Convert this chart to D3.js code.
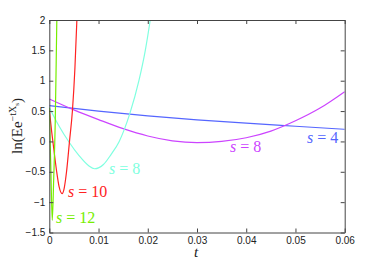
<!DOCTYPE html>
<html><head><meta charset="utf-8">
<script src="https://cdn.jsdelivr.net/npm/d3@7"></script>
<style>body{margin:0;background:#fff}svg{display:block}</style>
</head><body>
<svg id="c" width="382" height="262"></svg>
<script>
// Data
const xTicks = [0, 0.01, 0.02, 0.03, 0.04, 0.05, 0.06];
const yTicks = [-1.5, -1, -0.5, 0, 0.5, 1, 1.5, 2];

const tS4  = [0, 0.01, 0.02, 0.03, 0.04, 0.05, 0.06];
const vS4  = [0.59, 0.50, 0.42, 0.355, 0.30, 0.25, 0.20];

const tS8a = [0, 0.005, 0.01, 0.015, 0.02, 0.025, 0.03, 0.035, 0.04, 0.045, 0.05, 0.055, 0.06];
const vS8a = [0.70, 0.52, 0.36, 0.21, 0.09, 0.01, -0.02, 0.0, 0.06, 0.17, 0.34, 0.55, 0.82];

const tS8b = [0, 0.002, 0.004, 0.006, 0.008, 0.0092, 0.011, 0.0125, 0.0142, 0.0152, 0.0164, 0.0182, 0.0195, 0.0205, 0.022];
const vS8b = [0.56, 0.25, -0.01, -0.23, -0.40, -0.45, -0.38, -0.22, 0.0, 0.19, 0.47, 1.0, 1.5, 2.0, 2.9];

const tS10 = [0, 0.0005, 0.001, 0.0015, 0.002, 0.0026, 0.003, 0.0035, 0.0041, 0.0047, 0.0052, 0.0056, 0.006];
const vS10 = [0.52, 0.15, -0.18, -0.5, -0.75, -0.86, -0.78, -0.5, 0.0, 0.51, 1.2, 2.0, 2.9];

const tS12 = [0, 0.0003, 0.0006, 0.0009, 0.0012, 0.0014, 0.0016];
const vS12 = [0.55, -0.4, -1.3, -0.6, 0.3, 1.3, 2.4];

const seriesNames = ["4", "8", "8", "10", "12"];

const series = [
  {t: tS4,  v: vS4,  name: seriesNames[0], color: "#5566ff", lx: 307, ly: 143},
  {t: tS8a, v: vS8a, name: seriesNames[1], color: "#cc44ff", lx: 230, ly: 152},
  {t: tS8b, v: vS8b, name: seriesNames[2], color: "#80ffe0", lx: 109, ly: 174},
  {t: tS10, v: vS10, name: seriesNames[3], color: "#ff2222", lx: 68,  ly: 197},
  {t: tS12, v: vS12, name: seriesNames[4], color: "#77ee00", lx: 56,  ly: 223}
];

const L = 49.3, R = 344.7, T = 20, B = 232.5;
const svg = d3.select("#c");
const x = d3.scaleLinear().domain([0, 0.06]).range([L, R]);
const y = d3.scaleLinear().domain([-1.5, 2]).range([B, T]);

svg.append("defs").append("clipPath").attr("id", "clip")
  .append("rect").attr("x", L).attr("y", T).attr("width", R - L).attr("height", B - T);

const line = d3.line().x(d => x(d[0])).y(d => y(d[1])).curve(d3.curveMonotoneX);
const g = svg.append("g").attr("clip-path", "url(#clip)");
series.forEach(s => {
  g.append("path").datum(s.t.map((t, i) => [t, s.v[i]]))
    .attr("d", line).attr("fill", "none")
    .attr("stroke", s.color).attr("stroke-width", 1.2);
});

// axes (MATLAB-style inward ticks on all four sides)
const fmt = d => (d < 0 ? "\u2212" + Math.abs(d) : String(d));
const axB = svg.append("g").attr("transform", `translate(0,${B})`)
  .call(d3.axisBottom(x).tickValues(xTicks).tickFormat(fmt).tickSizeInner(-4).tickSizeOuter(0).tickPadding(4));
const axT = svg.append("g").attr("transform", `translate(0,${T})`)
  .call(d3.axisTop(x).tickValues(xTicks).tickFormat("").tickSizeInner(-4).tickSizeOuter(0));
const axL = svg.append("g").attr("transform", `translate(${L},0)`)
  .call(d3.axisLeft(y).tickValues(yTicks).tickFormat(fmt).tickSizeInner(-4).tickSizeOuter(0).tickPadding(4));
const axR = svg.append("g").attr("transform", `translate(${R},0)`)
  .call(d3.axisRight(y).tickValues(yTicks).tickFormat("").tickSizeInner(-4).tickSizeOuter(0));
[axB, axT, axL, axR].forEach(a => {
  a.select(".domain").attr("stroke", "#444");
  a.selectAll(".tick line").attr("stroke", "#444");
  a.selectAll("text").style("font-family", "'Liberation Sans', Arial, sans-serif")
    .attr("font-size", 10).attr("fill", "#222");
});

const serif = "'Liberation Serif', 'Times New Roman', serif";
// series labels
series.forEach(s => {
  const t = svg.append("text").attr("x", s.lx).attr("y", s.ly)
    .style("font-family", serif)
    .attr("font-size", 16).attr("fill", s.color);
  t.append("tspan").attr("font-style", "italic").text("s");
  t.append("tspan").text(" = " + s.name);
});

// axis labels
svg.append("text").attr("x", 196).attr("y", 257).attr("text-anchor", "middle")
  .style("font-family", serif).attr("font-style", "italic")
  .attr("font-size", 15).attr("fill", "#222").text("t");

const yl = svg.append("text").attr("transform", "translate(22,126) rotate(-90)")
  .attr("text-anchor", "middle")
  .style("font-family", serif).attr("font-size", 15).attr("fill", "#222");
yl.append("tspan").text("ln(Ee");
yl.append("tspan").attr("font-size", 10).attr("dy", -6).text("\u2212tX");
yl.append("tspan").attr("font-size", 7).attr("dy", 3).text("s");
yl.append("tspan").attr("dy", 3).text(")");
</script>
</body></html>
